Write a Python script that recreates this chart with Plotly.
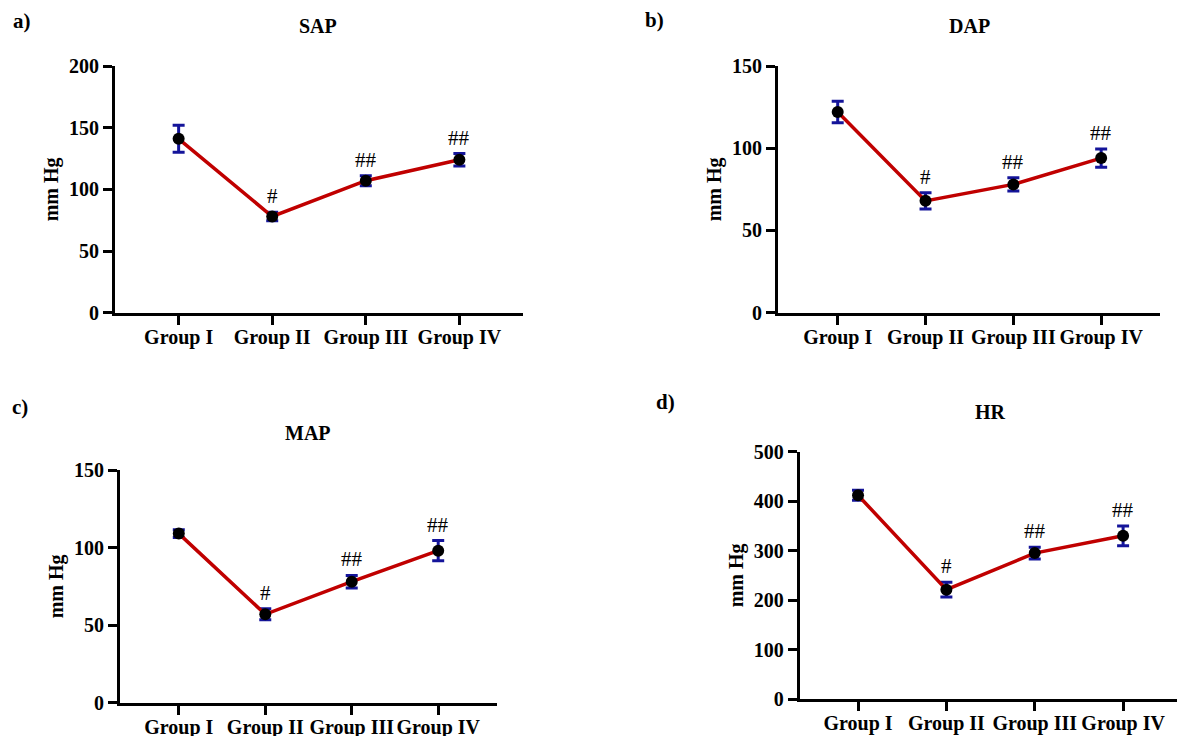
import plotly.graph_objects as go

W, H = 1177, 736

groups = ["Group I", "Group II", "Group III", "Group IV"]

sap_mean = [141, 78, 107, 124]
sap_err = [11, 3.5, 4, 5]
sap_sig = ["", "#", "##", "##"]

dap_mean = [122, 68, 78, 94]
dap_err = [6.5, 5, 4, 5.5]
dap_sig = ["", "#", "##", "##"]

map_mean = [109, 57, 78, 98]
map_err = [2.5, 3.5, 4, 6.5]
map_sig = ["", "#", "##", "##"]

hr_mean = [412, 221, 295, 330]
hr_err = [10, 15, 12, 20]
hr_sig = ["", "#", "##", "##"]

titles = ["SAP", "DAP", "MAP", "HR"]
panel_letters = ["a)", "b)", "c)", "d)"]
y_max = [200, 150, 150, 500]
y_dtick = [50, 50, 50, 100]

FONT = "Liberation Serif"
LINE_RED = "#c00000"
ERR_BLUE = "#14149a"

# pixel geometry of each panel: (left, right, top, bottom) and x range
panels = [
    dict(l=115, r=523, t=66, b=312.7, xr=[-0.68, 3.68]),
    dict(l=778, r=1160, t=66, b=312.7, xr=[-0.68, 3.67]),
    dict(l=120, r=497, t=470, b=702.7, xr=[-0.68, 3.68]),
    dict(l=799.7, r=1177, t=451.7, b=699, xr=[-0.66, 3.61]),
]
title_pos = [(317.7, 26), (969, 26), (308, 433), (990, 412)]
letter_pos = [(22, 21), (654, 20), (20, 407), (665, 402)]

means = [sap_mean, dap_mean, map_mean, hr_mean]
errs = [sap_err, dap_err, map_err, hr_err]
sigs = [sap_sig, dap_sig, map_sig, hr_sig]


def build(use_standoff):
    fig = go.Figure()
    annotations = []
    layout = dict(
        width=W, height=H,
        margin=dict(l=0, r=0, t=0, b=0, autoexpand=False),
        paper_bgcolor="white", plot_bgcolor="white",
        showlegend=False,
        font=dict(family=FONT, color="black"),
    )
    for i in range(4):
        p = panels[i]
        suffix = "" if i == 0 else str(i + 1)
        xa = "x" + suffix
        ya = "y" + suffix
        fig.add_trace(go.Scatter(
            x=groups, y=means[i], xaxis=xa, yaxis=ya,
            mode="lines+markers",
            line=dict(color=LINE_RED, width=3.5),
            marker=dict(color="black", size=12),
            error_y=dict(type="data", array=errs[i], color=ERR_BLUE,
                         thickness=3, width=6),
            cliponaxis=False,
        ))
        axis_common = dict(
            showline=True, linewidth=3, linecolor="black",
            ticks="outside", tickwidth=3, tickcolor="black",
            showgrid=False, zeroline=False, automargin=False, tickangle=0,
            tickfont=dict(family=FONT, size=20, color="black", weight="bold"),
        )
        xax = dict(
            axis_common,
            domain=[p["l"] / W, p["r"] / W],
            anchor=ya, type="category",
            categoryorder="array", categoryarray=groups,
            range=p["xr"],
        )
        if use_standoff:
            xax["ticklen"] = 9
            xax["ticklabelstandoff"] = -5
        else:
            xax["ticklen"] = 5
        layout["xaxis" + suffix] = xax
        layout["yaxis" + suffix] = dict(
            axis_common, ticklen=9,
            domain=[1 - p["b"] / H, 1 - p["t"] / H],
            anchor=xa,
            range=[0, y_max[i]], tick0=0, dtick=y_dtick[i],
            title=dict(text="mm Hg", standoff=5,
                       font=dict(family=FONT, size=20, color="black", weight="bold")),
        )
        for g, m, e, s in zip(groups, means[i], errs[i], sigs[i]):
            if s:
                annotations.append(dict(
                    x=g, y=m + e, xref=xa, yref=ya, text=s, showarrow=False,
                    yanchor="bottom", yshift=2,
                    font=dict(family=FONT, size=21, color="black"),
                ))
        tx, ty = title_pos[i]
        annotations.append(dict(
            x=tx / W, y=1 - ty / H, xref="paper", yref="paper",
            text=titles[i], showarrow=False, xanchor="center", yanchor="middle",
            font=dict(family=FONT, size=20, color="black", weight="bold"),
        ))
        lx, ly = letter_pos[i]
        annotations.append(dict(
            x=lx / W, y=1 - ly / H, xref="paper", yref="paper",
            text=panel_letters[i], showarrow=False, xanchor="center", yanchor="middle",
            font=dict(family=FONT, size=21, color="black", weight="bold"),
        ))
    layout["annotations"] = annotations
    fig.update_layout(**layout)
    return fig


try:
    fig = build(True)
except (ValueError, TypeError):
    fig = build(False)

fig.write_html("out.html")
